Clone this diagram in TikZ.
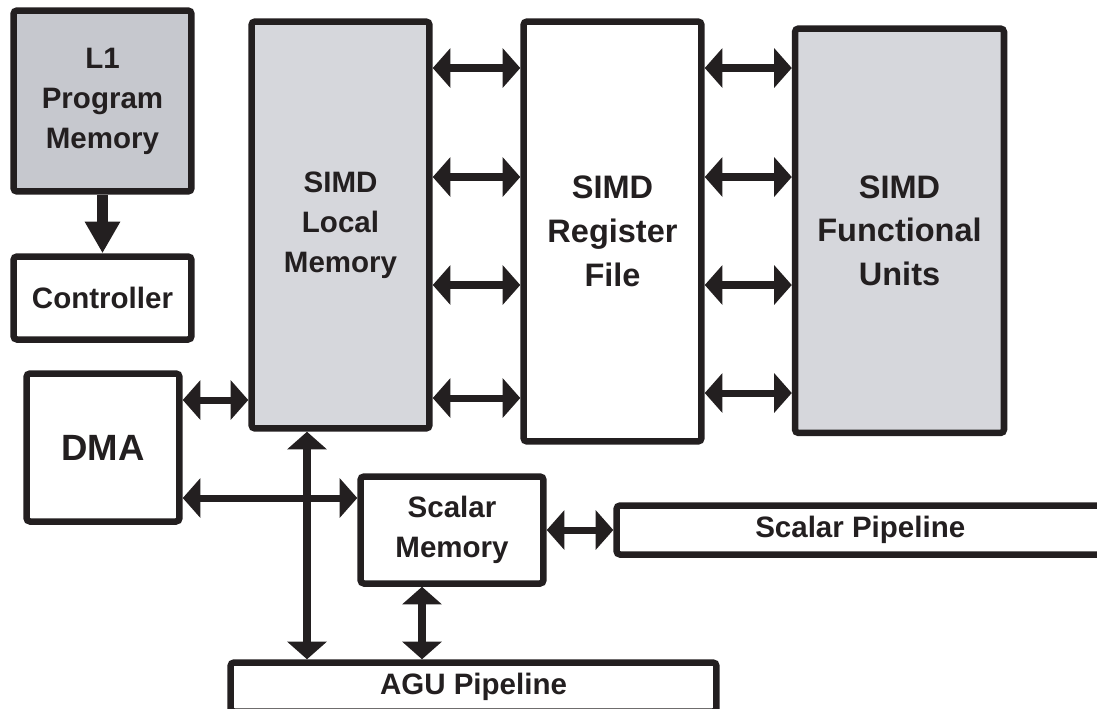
\documentclass[tikz,border=0pt]{standalone}
\usepackage{fontspec}
\setmainfont{Liberation Sans}
\usetikzlibrary{arrows.meta}
\definecolor{boxInk}{RGB}{35,31,32}
\definecolor{progBg}{RGB}{198,200,206}
\definecolor{simdBg}{RGB}{214,215,220}

\begin{document}
\begin{tikzpicture}[
  x=0.02cm, y=-0.02cm,
  font=\bfseries\fontsize{16.8}{22.8}\selectfont,
  unit/.style  ={draw=boxInk, line width=3.7pt, fill=white, rounded corners=2pt, align=center,
                 inner sep=0pt, text=boxInk},
  grey/.style  ={unit, fill=simdBg},
  dark/.style  ={unit, fill=progBg},
  bigtxt/.style={font=\bfseries\fontsize{18.5}{25}\selectfont},
  link/.style  ={{Triangle[length=10pt,width=22pt]}-{Triangle[length=10pt,width=22pt]},
                 line width=4pt, draw=boxInk},
  feed/.style  ={-{Triangle[length=18pt,width=19pt]}, line width=5.7pt, draw=boxInk},
]
\useasboundingbox (0,0) rectangle (1097,708);
\clip (0,0) rectangle (1097,708);

% ============ CONTROL ============
\node[dark, minimum width=3.56cm, minimum height=3.62cm] (l1) at (102.5,101) {L1\\Program\\Memory};
\node[unit, minimum width=3.56cm, minimum height=1.66cm] (ctrl) at (102.5,298) {Controller};
\draw[feed] (l1) -- (ctrl);

% ============ SIMD DATAPATH ============
\node[grey, minimum width=3.56cm, minimum height=8.14cm] (lm) at (340.5,225) {SIMD\\Local\\Memory};
\node[unit, bigtxt, minimum width=3.56cm, minimum height=8.40cm] (rf) at (612.5,231.5) {SIMD\\Register\\File};
\node[grey, bigtxt, minimum width=4.18cm, minimum height=8.09cm] (fu) at (899.5,230.75) {SIMD\\Functional\\Units};

\foreach \y in {68,177,285,398}
  \draw[link] (lm.east |- 0,\y) -- (rf.west |- 0,\y);
\foreach \y in {68,177,285,393}
  \draw[link] (rf.east |- 0,\y) -- (fu.west |- 0,\y);

% ============ DMA / SCALAR ============
\node[unit, font=\bfseries\fontsize{20.8}{25}\selectfont, minimum width=3.06cm, minimum height=2.96cm]
  (dma) at (103,447.5) {DMA};
\node[unit, minimum width=3.66cm, minimum height=2.14cm] (sm) at (452,530) {Scalar\\Memory};
\node[unit, minimum width=9.75cm, minimum height=0.98cm] (sp) at (860.25,530) {Scalar Pipeline};
\node[unit, minimum width=9.72cm, minimum height=0.98cm] (agu) at (473.5,687) {AGU Pipeline};

\draw[link] (dma.east |- 0,400) -- (lm.west |- 0,400);
\draw[link] (dma.east |- 0,498) -- (sm.west |- 0,498);
\draw[link] (sm) -- (sp);
\draw[link] (lm.south -| 307,0) -- (agu.north -| 307,0);
\draw[link] (sm.south -| 422,0) -- (agu.north -| 422,0);

\end{tikzpicture}
\end{document}
